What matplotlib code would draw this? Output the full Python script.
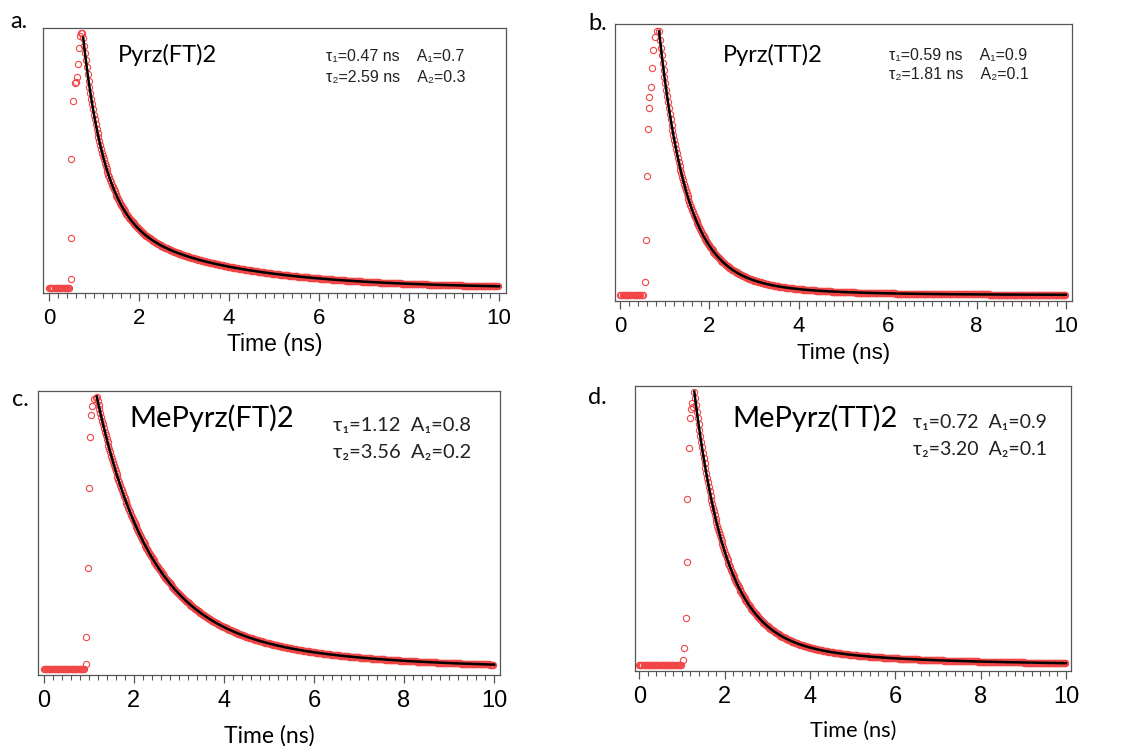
import numpy as np
import matplotlib
matplotlib.use("Agg")
import matplotlib.pyplot as plt
from matplotlib.ticker import MultipleLocator

# ---------- data ----------
letters = ["a.", "b.", "c.", "d."]
names = ["Pyrz(FT)2", "Pyrz(TT)2", "MePyrz(FT)2", "MePyrz(TT)2"]
tau1 = [0.47, 0.59, 1.12, 0.72]
tau2 = [2.59, 1.81, 3.56, 3.20]
amp1 = [0.7, 0.9, 0.8, 0.9]
amp2 = [0.3, 0.1, 0.2, 0.1]
units = [" ns", " ns", "", ""]

# where the fit curve starts (ns) and its height there (peak of data = 1)
fit_start = [0.76, 0.87, 1.18, 1.29]
fit_height = [0.983, 1.0, 1.006, 1.04]

# flat pre-pulse baseline, ends here (ns)
baseline_end = [0.47, 0.52, 0.92, 0.99]

# rising edge of the measured decay (ns, normalised counts)
rise_t = [
    [0.49, 0.49, 0.50, 0.54, 0.58, 0.60, 0.63, 0.64, 0.67, 0.69, 0.71, 0.74],
    [0.55, 0.57, 0.59, 0.61, 0.64, 0.65, 0.68, 0.71, 0.74, 0.77, 0.82],
    [0.94, 0.95, 0.98, 1.00, 1.03, 1.05, 1.08, 1.11, 1.16],
    [1.03, 1.06, 1.09, 1.11, 1.13, 1.16, 1.19, 1.21, 1.24, 1.27],
]
rise_v = [
    [0.037, 0.199, 0.506, 0.736, 0.804, 0.808, 0.827, 0.878, 0.944, 0.99, 1.0, 1.0],
    [0.05, 0.21, 0.45, 0.63, 0.71, 0.75, 0.79, 0.86, 0.93, 0.98, 1.0],
    [0.02, 0.118, 0.374, 0.67, 0.857, 0.94, 0.97, 0.996, 1.0],
    [0.02, 0.063, 0.18, 0.39, 0.63, 0.825, 0.94, 0.975, 0.997, 0.98],
]

# ---------- layout (pixel boxes: left, top, right, bottom) ----------
W, H = 1132, 746
boxes = [(43, 28, 506, 293), (615, 24, 1072, 301),
         (38, 391, 500, 675), (635, 386, 1071, 671)]
xlims = [(-0.133, 10.156), (-0.12, 10.14), (-0.124, 10.13), (-0.10, 10.12)]
ylims = [(-0.018, 1.021), (-0.023, 1.028), (-0.021, 1.027), (-0.023, 1.061)]
title_pos = [(0.268, 0.898), (0.345, 0.888), (0.376, 0.905), (0.414, 0.887)]
ann_pos = [(0.611, 0.891, 0.815), (0.600, 0.888, 0.816),
           (0.639, 0.880, 0.782), (0.638, 0.873, 0.778)]
letter_pos = [(10, 22), (588, 23), (12, 400), (588, 398)]
tick_size = [16, 16, 17, 17]
label_size = [16.5, 16, 16.5, 15.7]
label_pad = [3, 4, 9, 9]
ann_size = [11.5, 11.5, 14.5, 14]

arial = ["Liberation Sans", "DejaVu Sans"]
calibri = ["Lato", "DejaVu Sans"]
plt.rcParams["font.family"] = arial

fig = plt.figure(figsize=(W / 100, H / 100), dpi=100)

red = "#f04545"


def biexp(t, i):
    dt = t - fit_start[i]
    y = amp1[i] * np.exp(-dt / tau1[i]) + amp2[i] * np.exp(-dt / tau2[i])
    return fit_height[i] * y


for i in range(4):
    l, t, r, b = boxes[i]
    ax = fig.add_axes([l / W, 1 - b / H, (r - l) / W, (b - t) / H])

    # measured points
    tb = np.arange(0.0, baseline_end[i], 0.025)
    ax.plot(tb, np.zeros_like(tb), "o", mfc="none", mec=red, ms=4.5, mew=0.8)
    ax.plot(rise_t[i], rise_v[i], "o", mfc="none", mec=red, ms=4.5, mew=0.8)
    td = np.arange(fit_start[i], 10.0, 0.02)
    ax.plot(td, biexp(td, i), "o", mfc="none", mec=red, ms=4.5, mew=0.8)

    # fit
    tf = np.linspace(fit_start[i], 10.0, 600)
    ax.plot(tf, biexp(tf, i), color="black", lw=1.8)

    ax.set_xlim(*xlims[i])
    ax.set_ylim(*ylims[i])
    ax.set_yticks([])
    ax.xaxis.set_major_locator(MultipleLocator(2))
    ax.xaxis.set_minor_locator(MultipleLocator(0.2))
    ax.tick_params(axis="x", which="major", direction="out", length=6,
                   width=0.9, color="#555555", pad=5, labelsize=tick_size[i])
    ax.tick_params(axis="x", which="minor", direction="out", length=3.5,
                   width=0.8, color="#555555")
    for sp in ax.spines.values():
        sp.set_color("#555555")
        sp.set_linewidth(0.9)

    if i < 2:
        ax.set_xlabel("Time (ns)", fontsize=label_size[i], labelpad=label_pad[i])
        title_size = 17
        ann_font = arial
    else:
        ax.set_xlabel("Time (ns)", fontsize=label_size[i], family=calibri,
                      labelpad=label_pad[i])
        title_size = 21
        ann_font = calibri

    ax.text(title_pos[i][0], title_pos[i][1], names[i], transform=ax.transAxes,
            ha="center", va="center", fontsize=title_size, family=calibri)
    gap = "    " if i < 2 else "  "
    line1 = f"τ₁={tau1[i]:.2f}{units[i]}{gap}A₁={amp1[i]}"
    line2 = f"τ₂={tau2[i]:.2f}{units[i]}{gap}A₂={amp2[i]}"
    ax.text(ann_pos[i][0], ann_pos[i][1], line1, transform=ax.transAxes,
            ha="left", va="center", fontsize=ann_size[i], family=ann_font,
            color="#222222")
    ax.text(ann_pos[i][0], ann_pos[i][2], line2, transform=ax.transAxes,
            ha="left", va="center", fontsize=ann_size[i], family=ann_font,
            color="#222222")

    fig.text(letter_pos[i][0] / W, 1 - letter_pos[i][1] / H, letters[i],
             ha="left", va="center", fontsize=17, family=calibri)

fig.savefig("out.png", dpi=100)
